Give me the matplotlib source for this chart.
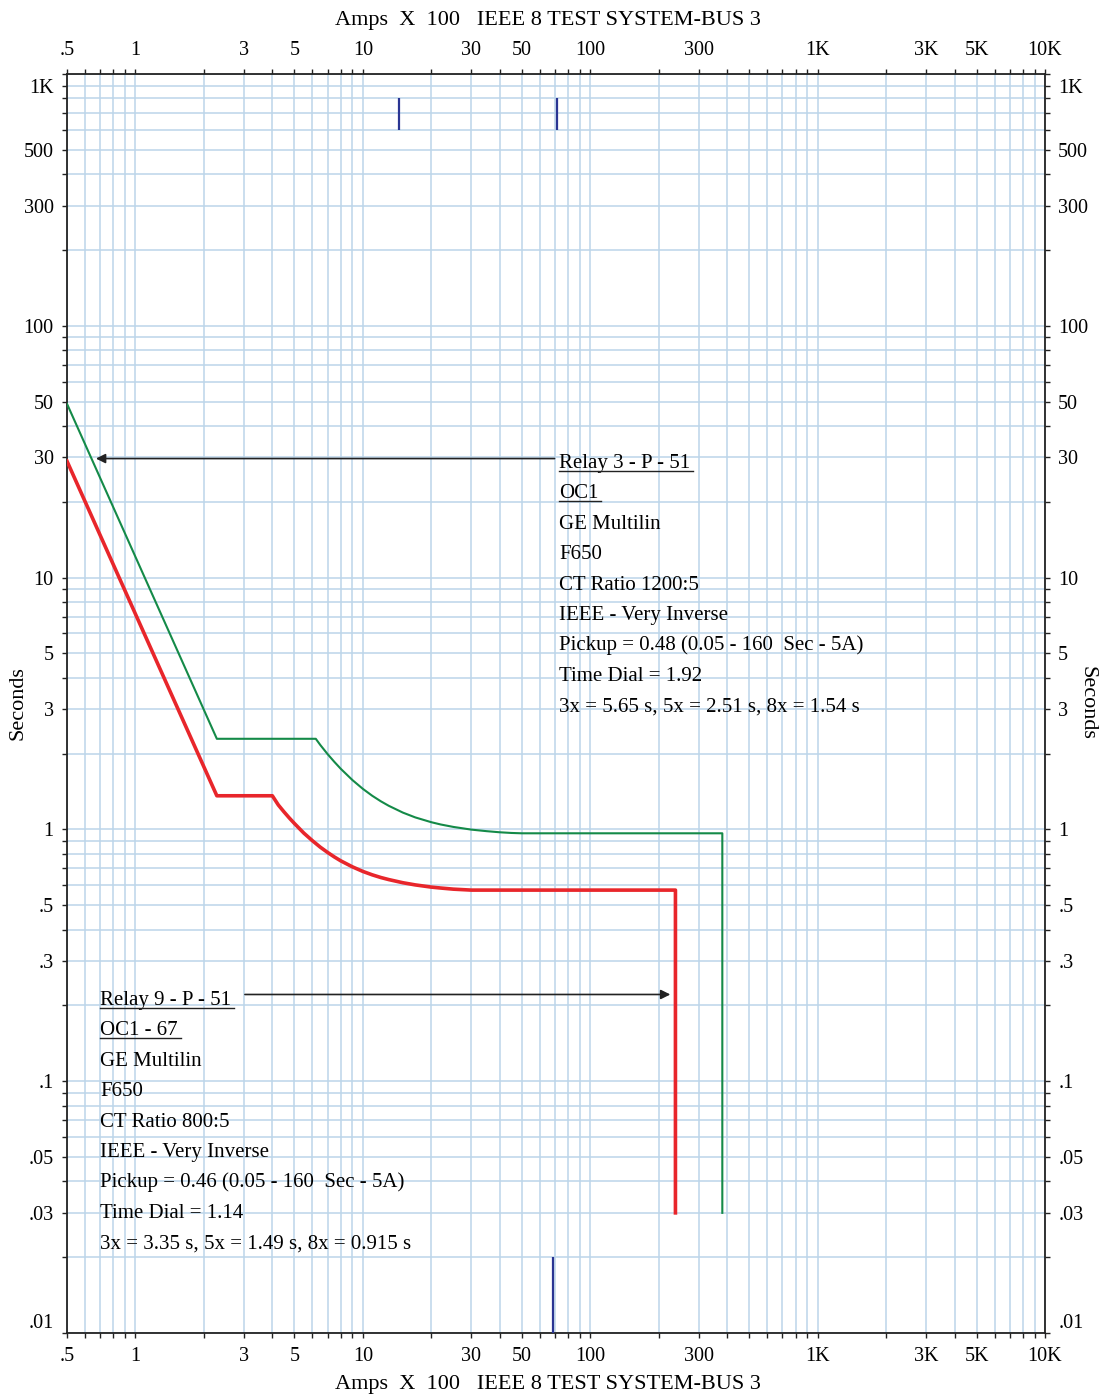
import matplotlib
matplotlib.use("Agg")
import matplotlib.pyplot as plt
from matplotlib.ticker import FixedLocator, FixedFormatter, LogLocator, NullFormatter
from matplotlib.lines import Line2D
from matplotlib.transforms import ScaledTranslation

plt.rcParams['font.family'] = ['Liberation Serif', 'DejaVu Serif']

# -----------------------------------------
# data (amps x 100, seconds)
# -----------------------------------------
# Relay 9 - P - 51 (red)
r9_amps = [0.5, 2.28, 4.0, 4.25, 4.5, 4.75, 5, 5.5, 6, 6.5, 7, 7.5, 8, 9, 10, 11, 12, 13,
           15, 17, 20, 22, 25, 30, 237, 237]
r9_secs = [29, 1.36, 1.36, 1.25, 1.174, 1.11, 1.056, 0.967, 0.902, 0.85, 0.81, 0.777, 0.75,
           0.71, 0.681, 0.66, 0.644, 0.632, 0.614, 0.602, 0.59, 0.585, 0.579, 0.574, 0.574, 0.03]

# Relay 3 - P - 51 (green)
r3_amps = [0.5, 2.28, 6.21, 6.5, 7, 7.5, 8, 9, 10, 11, 12, 13, 15, 17, 20, 22, 25, 30, 35,
           40, 45, 50, 381, 381]
r3_secs = [49, 2.29, 2.29, 2.164, 1.99, 1.853, 1.74, 1.57, 1.449, 1.36, 1.293, 1.241, 1.166,
           1.116, 1.068, 1.046, 1.023, 0.998, 0.984, 0.974, 0.968, 0.965, 0.965, 0.03]

# small blue marks
top_mark_amps = [14.4, 71.1]
top_mark_secs = [600, 800]
bot_mark_amps = [68.3]
bot_mark_secs = [0.01, 0.02]

# arrows: (tail amps, tip amps, seconds)
r3_arrow = (69.7, 0.67, 29.7)
r9_arrow = (3.03, 225, 0.221)

x_ticks = [0.5, 1, 3, 5, 10, 30, 50, 100, 300, 1000, 3000, 5000, 10000]
x_labels = ['.5', '1', '3', '5', '10', '30', '50', '100', '300', '1K', '3K', '5K', '10K']
y_ticks = [0.01, 0.03, 0.05, 0.1, 0.3, 0.5, 1, 3, 5, 10, 30, 50, 100, 300, 500, 1000]
y_labels = ['.01', '.03', '.05', '.1', '.3', '.5', '1', '3', '5', '10', '30', '50', '100', '300', '500', '1K']

relay3_lines = ["Relay 3 - P - 51", "OC1", "GE Multilin", "F650", "CT Ratio 1200:5",
                "IEEE - Very Inverse", "Pickup = 0.48 (0.05 - 160  Sec - 5A)",
                "Time Dial = 1.92", "3x = 5.65 s, 5x = 2.51 s, 8x = 1.54 s"]
relay9_lines = ["Relay 9 - P - 51", "OC1 - 67", "GE Multilin", "F650", "CT Ratio 800:5",
                "IEEE - Very Inverse", "Pickup = 0.46 (0.05 - 160  Sec - 5A)",
                "Time Dial = 1.14", "3x = 3.35 s, 5x = 1.49 s, 8x = 0.915 s"]

axis_title = "Amps  X  100   IEEE 8 TEST SYSTEM-BUS 3"

# -----------------------------------------
# figure / axes
# -----------------------------------------
W, H = 1100, 1395
fig = plt.figure(figsize=(W / 100, H / 100), dpi=100)
ax = fig.add_axes([67 / W, 1 - 1333 / H, 978 / W, 1259 / H])
ax.set_xscale('log')
ax.set_yscale('log')
ax.set_xlim(0.5, 10000)
ax.set_ylim(0.01, 1000)

ax.xaxis.set_major_locator(FixedLocator(x_ticks))
ax.xaxis.set_major_formatter(FixedFormatter(x_labels))
ax.xaxis.set_minor_locator(LogLocator(base=10, subs=range(1, 10), numticks=20))
ax.xaxis.set_minor_formatter(NullFormatter())
ax.yaxis.set_major_locator(FixedLocator(y_ticks))
ax.yaxis.set_major_formatter(FixedFormatter(y_labels))
ax.yaxis.set_minor_locator(LogLocator(base=10, subs=range(1, 10), numticks=20))
ax.yaxis.set_minor_formatter(NullFormatter())

ax.grid(True, which='both', color='#bcd5ea', lw=1.1)
ax.set_axisbelow(True)
for s in ax.spines.values():
    s.set_color('#222222')
    s.set_linewidth(1.3)

ax.tick_params(which='both', direction='out', length=3.5, width=1, color='#222222',
               top=True, right=True, labeltop=True, labelright=True, labelsize=14.5)
ax.tick_params(axis='x', pad=6.5)
ax.tick_params(axis='y', pad=6)

# keep the end labels inside the frame like the original
yt = ax.yaxis.get_major_ticks()
for lab in (yt[0].label1, yt[0].label2):
    lab.set_verticalalignment('bottom')
for lab in (yt[-1].label1, yt[-1].label2):
    lab.set_verticalalignment('top')
    lab.set_transform(lab.get_transform() + ScaledTranslation(0, -5 / 100, fig.dpi_scale_trans))

# -----------------------------------------
# curves
# -----------------------------------------
ax.plot(r3_amps, r3_secs, color='#148a48', lw=1.5, zorder=3)
ax.plot(r9_amps, r9_secs, color='#e8262b', lw=2.6, zorder=4)

ax.vlines(top_mark_amps, top_mark_secs[0], top_mark_secs[1], color='#2a3593', lw=1.6, zorder=3)
ax.vlines(bot_mark_amps, bot_mark_secs[0], bot_mark_secs[1], color='#2a3593', lw=1.6, zorder=3)

for tail, tip, sec in (r3_arrow, r9_arrow):
    ax.annotate('', xy=(tip, sec), xytext=(tail, sec),
                arrowprops=dict(arrowstyle='-|>', color='#222222', lw=1.2,
                                mutation_scale=14, shrinkA=0, shrinkB=0))

# -----------------------------------------
# relay notes
# -----------------------------------------
step = 30.4 / 1259
notes = []
for x0, y0, lines in ((0.5031, 0.6871, relay3_lines), (0.0337, 0.2605, relay9_lines)):
    for i, line in enumerate(lines):
        t = ax.text(x0, y0 - i * step, line, transform=ax.transAxes, fontsize=15,
                    ha='left', va='baseline', zorder=5)
        if i < 2:
            notes.append(t)

fig.text(548 / W, 1 - 20 / H, axis_title, ha='center', va='center', fontsize=16)
fig.text(548 / W, 1 - 1384 / H, axis_title, ha='center', va='center', fontsize=16)
fig.text(18 / W, 1 - 703 / H, 'Seconds', rotation=90, ha='center', va='center', fontsize=16)
fig.text(1087 / W, 1 - 703 / H, 'Seconds', rotation=-90, ha='center', va='center', fontsize=16)

# underline the first two lines of each note
fig.canvas.draw()
r = fig.canvas.get_renderer()
inv = ax.transAxes.inverted()
for t in notes:
    bb = t.get_window_extent(r)
    base = ax.transAxes.transform(t.get_position())[1]
    (ax0, uy), (ax1, _) = inv.transform([(bb.x0, base - 3), (bb.x1 + 3, base - 3)])
    ax.add_line(Line2D([ax0, ax1], [uy, uy], transform=ax.transAxes, color='#222222',
                       lw=1.0, clip_on=False, zorder=5))

fig.savefig('out.png', dpi=100)
